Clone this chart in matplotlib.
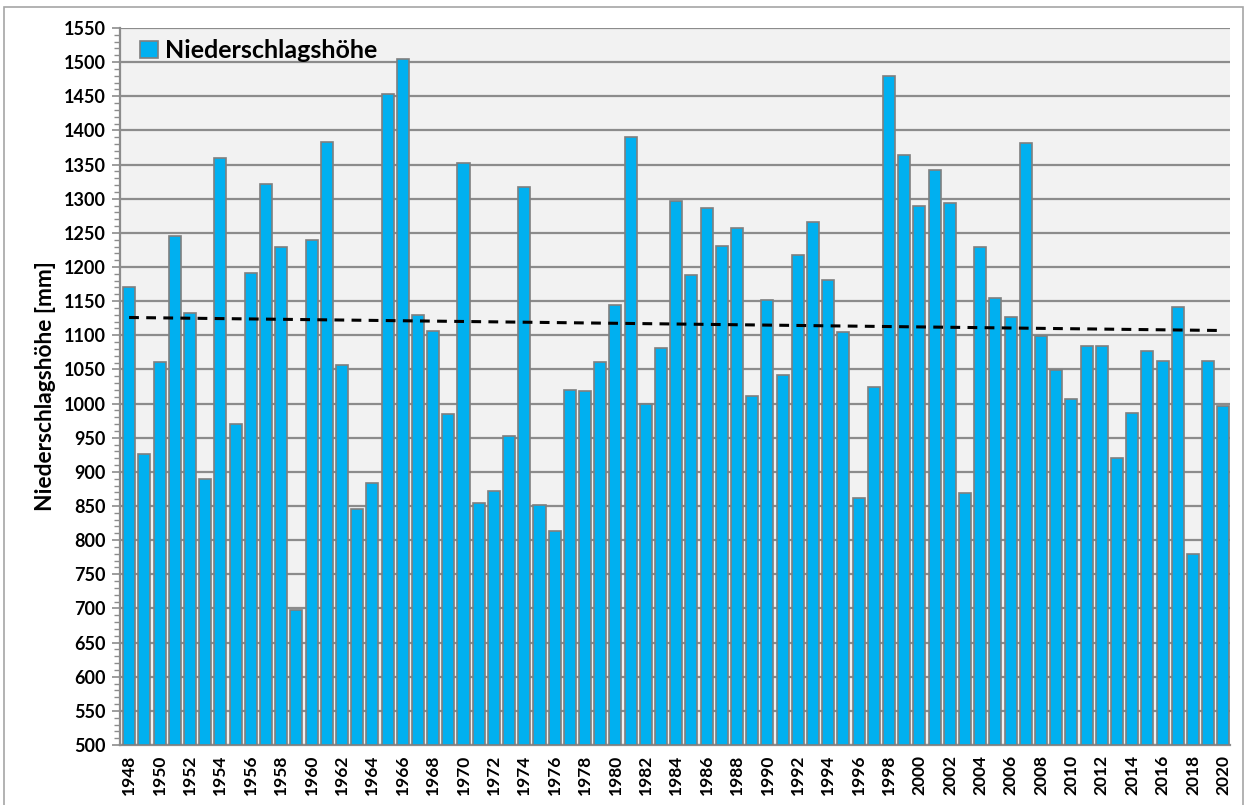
import numpy as np
import matplotlib
matplotlib.use("Agg")
import matplotlib.pyplot as plt
from matplotlib.patches import Rectangle
from matplotlib.ticker import MultipleLocator

# Jahresniederschlag
years = list(range(1948, 2021))
niederschlag = [
    1170, 926, 1061, 1246, 1132, 889, 1360, 970, 1191, 1321,   # 1948-1957
    1230, 697, 1240, 1383, 1056, 846, 883, 1454, 1504, 1130,   # 1958-1967
    1107, 984, 1352, 855, 872, 953, 1317, 852, 813, 1020,      # 1968-1977
    1019, 1061, 1144, 1391, 999, 1081, 1296, 1188, 1286, 1231, # 1978-1987
    1257, 1011, 1152, 1042, 1218, 1266, 1181, 1105, 862, 1024, # 1988-1997
    1479, 1364, 1289, 1342, 1294, 869, 1229, 1154, 1127, 1381, # 1998-2007
    1099, 1049, 1006, 1085, 1084, 920, 986, 1077, 1062, 1142,  # 2008-2017
    779, 1063, 997,                                            # 2018-2020
]
tick_years = years[::2]

bar_color = "#00B0F0"
edge_color = "#7F7F7F"
grid_color = "#8C8C8C"

plt.rcParams['font.family'] = ['Lato', 'DejaVu Sans']

fig = plt.figure(figsize=(12.48, 8.05), dpi=100)
ax = fig.add_axes([120/1248, 1-745/805, 1110/1248, 717/805])
ax.set_facecolor("#F2F2F2")

x = np.arange(len(years))
ax.bar(x, np.array(niederschlag) - 500, bottom=500, width=0.79,
       color=bar_color, edgecolor=edge_color, linewidth=1.2, zorder=3,
       label="Niederschlagshöhe")

# linearer Trend
k, d = np.polyfit(x, niederschlag, 1)
ax.plot(x, k*x + d, color="black", linestyle=(0, (3.2, 2.4)), linewidth=2.2, zorder=4)

ax.set_xlim(-0.6, len(years) - 0.57)
ax.set_ylim(500, 1550)
ax.yaxis.set_major_locator(MultipleLocator(50))
ax.yaxis.set_minor_locator(MultipleLocator(10))
ax.grid(axis="y", color=grid_color, linewidth=1.6, zorder=1)

ax.set_xticks([years.index(y) for y in tick_years])
ax.set_xticklabels([str(y) for y in tick_years], rotation=90, fontsize=12.5, fontweight="bold")
for lab in ax.get_yticklabels():
    lab.set_fontsize(13)
    lab.set_fontweight("bold")
ax.tick_params(axis="y", which="major", length=6, width=1.2, color=grid_color, pad=4)
ax.tick_params(axis="y", which="minor", length=4, width=1, color=grid_color)
ax.tick_params(axis="x", length=0, pad=7)

for s in ["top", "right"]:
    ax.spines[s].set_visible(False)
for s in ["left", "bottom"]:
    ax.spines[s].set_color(grid_color)
    ax.spines[s].set_linewidth(1.6)

ax.set_ylabel("Niederschlagshöhe [mm]", fontsize=16.4, fontweight="bold", labelpad=6)

leg = ax.legend(loc="upper left", bbox_to_anchor=(0.0, 1.012), frameon=False,
                prop={"size": 18, "weight": "bold"}, handlelength=0.7, handleheight=0.7,
                handletextpad=0.3, borderaxespad=0.4)

# Rahmen um das Diagramm
fig.patches.append(Rectangle((4/1248, -0.01), 1239/1248, 1-7/805+0.01, transform=fig.transFigure,
                             fill=False, edgecolor="#A6A6A6", linewidth=1.2))

fig.savefig("out.png", dpi=100)
